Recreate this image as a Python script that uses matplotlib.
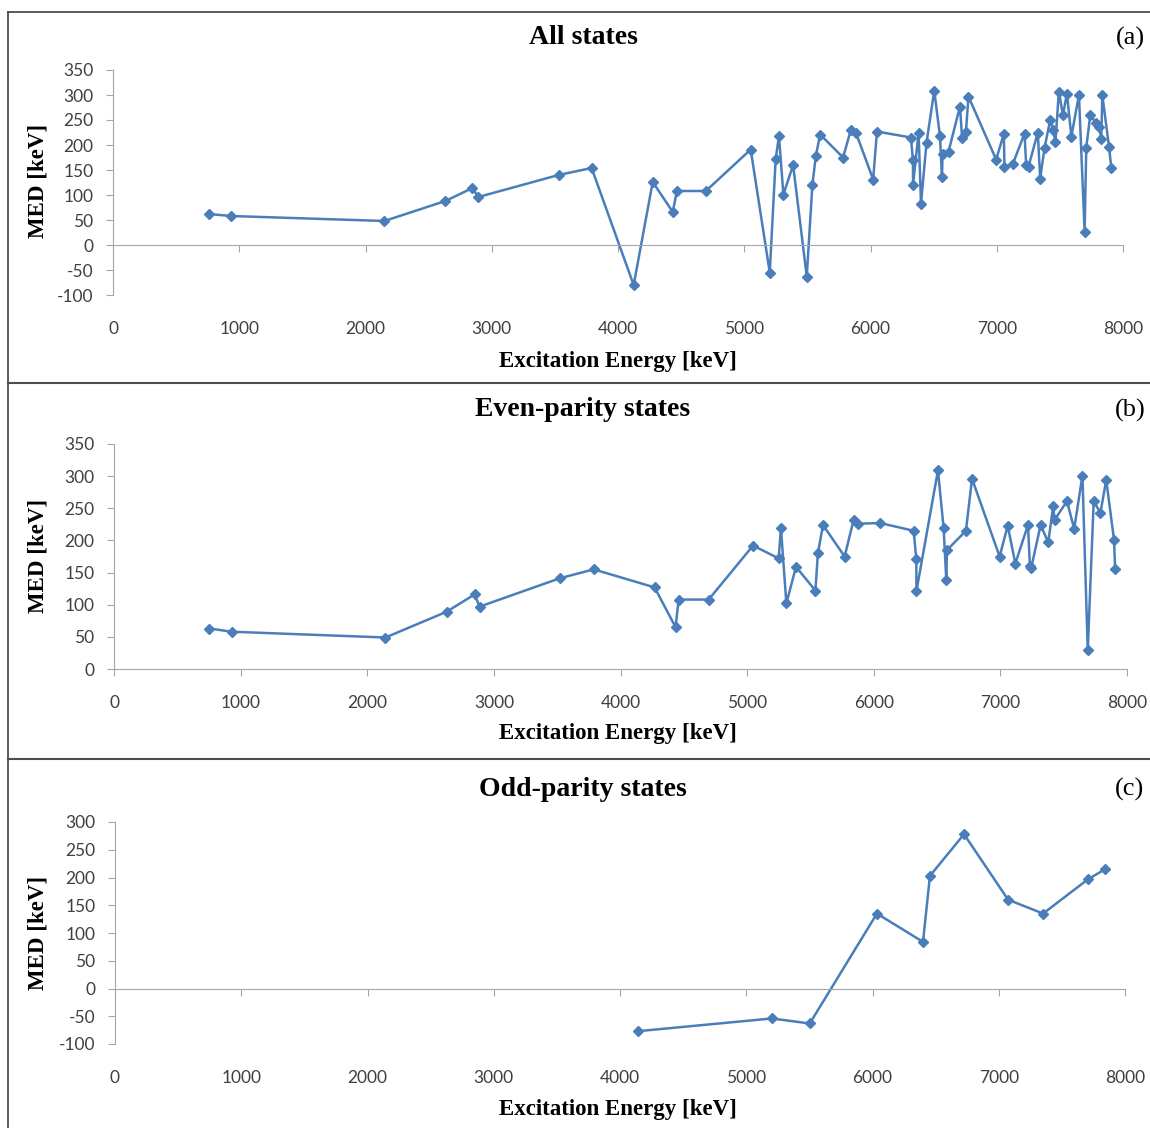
import matplotlib
matplotlib.use('Agg')
import matplotlib.pyplot as plt
from matplotlib.lines import Line2D

plt.rcParams['font.family'] = ['Lato', 'DejaVu Sans']
plt.rcParams['axes.unicode_minus'] = False

# (a) all states
all_x = [760, 934, 2149, 2633, 2847, 2894, 3529, 3791, 4124, 4275,
         4434, 4466, 4696, 5051, 5202, 5249, 5275, 5310, 5387, 5495,
         5540, 5567, 5601, 5783, 5845, 5884, 6021, 6051, 6320, 6336,
         6337, 6381, 6400, 6444, 6505, 6550, 6566, 6571, 6618, 6709,
         6725, 6756, 6776, 6995, 7056, 7061, 7127, 7220, 7233, 7252,
         7325, 7344, 7379, 7424, 7444, 7465, 7492, 7524, 7556, 7591,
         7651, 7696, 7709, 7741, 7783, 7810, 7828, 7836, 7889, 7907]
all_y = [62, 58, 48, 88, 114, 96, 140, 154, -80, 126,
         66, 108, 108, 191, -55, 172, 218, 101, 160, -63,
         121, 178, 221, 175, 231, 225, 131, 227, 215, 170,
         120, 225, 83, 205, 309, 218, 137, 182, 187, 277,
         215, 227, 297, 171, 222, 157, 162, 223, 160, 157,
         225, 133, 195, 251, 231, 207, 307, 260, 303, 217,
         300, 27, 195, 260, 245, 237, 213, 300, 197, 155]

# (b) even-parity states
even_x = [754, 928, 2144, 2626, 2848, 2887, 3519, 3788, 4269, 4435,
          4459, 4696, 5047, 5249, 5267, 5310, 5386, 5539, 5559, 5599,
          5770, 5841, 5875, 6052, 6315, 6336, 6337, 6507, 6552, 6573,
          6578, 6728, 6776, 6994, 7058, 7118, 7218, 7233, 7243, 7318,
          7378, 7417, 7428, 7526, 7583, 7648, 7690, 7737, 7790, 7836,
          7898, 7906]
even_y = [63, 58, 49, 89, 116, 97, 141, 155, 127, 65,
          108, 108, 192, 172, 219, 102, 159, 122, 180, 224,
          175, 232, 226, 227, 215, 171, 121, 309, 219, 138,
          185, 215, 296, 175, 223, 164, 224, 161, 157, 224,
          197, 253, 232, 261, 218, 301, 29, 261, 243, 294,
          200, 156]

# (c) odd-parity states
odd_x = [4139, 5202, 5503, 6035, 6400, 6455, 6725, 7074, 7351, 7708, 7843]
odd_y = [-77, -54, -63, 135, 84, 203, 278, 160, 135, 197, 215]

titles = ['All states', 'Even-parity states', 'Odd-parity states']
tags = ['(a)', '(b)', '(c)']
x_ticks = list(range(0, 8001, 1000))

W, H = 1150, 1128
fig = plt.figure(figsize=(W / 100, H / 100), dpi=100)

blue = '#4A7EBB'
grey = '#A6A6A6'
txt = '#404040'

# pixel boxes: left, top, right, bottom, ymin, ymax
boxes = [
    (113, 70, 1123, 295, -100, 350),
    (114, 444, 1127, 669, 0, 350),
    (115, 822, 1125, 1044, -100, 300),
]
# title y, xlabel y, ylabel y (pixels)
text_pos = [(38, 361, 181), (410, 734, 556), (789, 1110, 933)]
series = [(all_x, all_y), (even_x, even_y), (odd_x, odd_y)]

for i in range(3):
    l, t, r, b, ylo, yhi = boxes[i]
    ax = fig.add_axes([l / W, 1 - b / H, (r - l) / W, (b - t) / H])
    xs, ys = series[i]
    ax.plot(xs, ys, color=blue, lw=1.8, marker='D', ms=5.5,
            mfc=blue, mec=blue, clip_on=False)
    ax.set_xlim(0, 8000)
    ax.set_ylim(ylo, yhi)
    ax.set_yticks(range(ylo, yhi + 1, 50))
    for s in ['top', 'right']:
        ax.spines[s].set_visible(False)
    ax.spines['left'].set_color(grey)
    ax.spines['bottom'].set_color(grey)
    ax.spines['bottom'].set_position(('data', 0))
    ax.set_xticks(x_ticks)
    ax.tick_params(axis='x', labelbottom=False, direction='out',
                   length=5, color=grey)
    ax.tick_params(axis='y', direction='out', length=5, color=grey,
                   labelsize=12.5, labelcolor=txt, pad=9)
    sec = ax.secondary_xaxis(0)
    sec.set_xticks(x_ticks)
    sec.tick_params(length=0, pad=19, labelsize=12.5, labelcolor=txt)
    sec.spines['bottom'].set_visible(False)

    ty, xly, yly = text_pos[i]
    fig.text(583 / W, 1 - ty / H, titles[i], ha='center', va='center',
             family='Liberation Serif', weight='bold', fontsize=20)
    fig.text(1130 / W, 1 - ty / H, tags[i], ha='center', va='center',
             family='Liberation Serif', fontsize=19)
    fig.text(618 / W, 1 - xly / H, 'Excitation Energy [keV]', ha='center',
             va='center', family='Liberation Serif', weight='bold',
             fontsize=16.5)
    fig.text(38 / W, 1 - yly / H, 'MED [keV]', ha='center', va='center',
             rotation=90, family='Liberation Serif', weight='bold',
             fontsize=16.5)

# frame lines around the panels
frame = '#4D4D4D'
fig.add_artist(Line2D([8 / W, 1], [1 - 12 / H, 1 - 12 / H], color=frame, lw=1.3))
fig.add_artist(Line2D([8 / W, 8 / W], [1 - 12 / H, 0], color=frame, lw=1.3))
for yy in [383, 759]:
    fig.add_artist(Line2D([8 / W, 1], [1 - yy / H, 1 - yy / H], color=frame, lw=1.5))

fig.savefig('out.png', dpi=100)
